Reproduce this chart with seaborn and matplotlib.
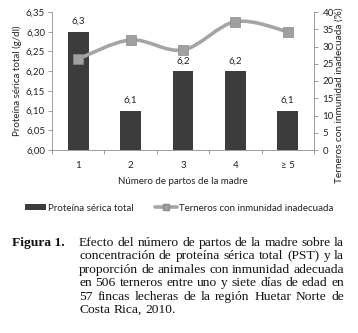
import numpy as np
import matplotlib
matplotlib.use("Agg")
import matplotlib.pyplot as plt
from matplotlib.path import Path
from matplotlib.patches import PathPatch, Patch
from matplotlib.lines import Line2D
import seaborn as sns

# --- DATA ---
partos = ["1", "2", "3", "4", "≥ 5"]
proteina = [6.30, 6.10, 6.20, 6.20, 6.10]
proteina_lbl = ["6,3", "6,1", "6,2", "6,2", "6,1"]
inmunidad = [26.4, 31.9, 29.0, 37.2, 34.3]
y_left_ticks = [6.00, 6.05, 6.10, 6.15, 6.20, 6.25, 6.30, 6.35]
y_right_ticks = [0, 5, 10, 15, 20, 25, 30, 35, 40]

caption_lines = [
    "Efecto del número de partos de la madre sobre la",
    "concentración de proteína sérica total (PST) y la",
    "proporción de animales con inmunidad adecuada",
    "en 506 terneros entre uno y siete días de edad en",
    "57 fincas lecheras de la región Huetar Norte de",
    "Costa Rica, 2010.",
]

sns.set_style("white")
plt.rcParams["font.family"] = ["Lato", "DejaVu Sans"]

W, H = 358, 333
fig = plt.figure(figsize=(W / 100, H / 100), dpi=100)
ax = fig.add_axes([52 / W, 1 - 150 / H, (314 - 52) / W, (150 - 12) / H])

bar_col = "#3c3c3c"
line_col = "#a5a5a5"
axis_col = "#8c8c8c"
txt_col = "#222222"

# --- BARS ---
sns.barplot(x=partos, y=proteina, ax=ax, color=bar_col, width=0.4,
            saturation=1, edgecolor="none")
ax.set_ylim(6.00, 6.35)
ax.set_yticks(y_left_ticks)
ax.set_yticklabels([f"{v:.2f}".replace(".", ",") for v in y_left_ticks])
ax.set_xlim(-0.5, len(partos) - 0.5)
for i, (v, lb) in enumerate(zip(proteina, proteina_lbl)):
    ax.annotate(lb, (i, v), xytext=(0, 4), textcoords="offset points",
                ha="center", va="bottom", fontsize=7, color=txt_col)

ax.set_xlabel("Número de partos de la madre", fontsize=7, color=txt_col, labelpad=5)
ax.set_ylabel("Proteína sérica total (g/dl)", fontsize=7, color=txt_col, labelpad=3)
ax.tick_params(axis="y", labelsize=7, colors=txt_col, length=3, width=0.6,
               color=axis_col, direction="out", left=True, pad=2)
ax.tick_params(axis="x", which="major", labelsize=7, colors=txt_col, length=0, pad=8)
ax.set_xticks(np.arange(-0.5, len(partos), 1.0), minor=True)
ax.tick_params(axis="x", which="minor", length=3, width=0.6, color=axis_col,
               direction="out", bottom=True)
for s in ["top", "right"]:
    ax.spines[s].set_visible(False)
for s in ["left", "bottom"]:
    ax.spines[s].set_color(axis_col)
    ax.spines[s].set_linewidth(0.6)

# --- LINE (smoothed, on second axis) ---
ax2 = ax.twinx()
ax2.set_ylim(0, 40)
ax2.set_yticks(y_right_ticks)
xs = np.arange(len(partos))
ys = np.array(inmunidad)
verts = [(xs[0], ys[0])]
codes = [Path.MOVETO]
for i in range(len(xs) - 1):
    p0 = (xs[max(i - 1, 0)], ys[max(i - 1, 0)])
    p1 = (xs[i], ys[i])
    p2 = (xs[i + 1], ys[i + 1])
    p3 = (xs[min(i + 2, len(xs) - 1)], ys[min(i + 2, len(xs) - 1)])
    c1 = (p1[0] + (p2[0] - p0[0]) / 6, p1[1] + (p2[1] - p0[1]) / 6)
    c2 = (p2[0] - (p3[0] - p1[0]) / 6, p2[1] - (p3[1] - p1[1]) / 6)
    verts += [c1, c2, p2]
    codes += [Path.CURVE4] * 3
ax2.add_patch(PathPatch(Path(verts, codes), facecolor="none", edgecolor=line_col,
                        lw=2.6, capstyle="round", zorder=2))
sns.scatterplot(x=xs, y=ys, ax=ax2, marker="s", s=42, color="#a0a0a0",
                edgecolor="#8a8a8a", linewidth=0.5, zorder=3)
ax2.set_ylabel("Terneros con inmunidad inadecuada (%)", fontsize=7.2, color=txt_col,
               va="center")
ax2.yaxis.set_label_coords((339 - 52) / 262, (150 - 95) / 138)
ax2.tick_params(axis="y", labelsize=7, colors=txt_col, length=3, width=0.6,
                color=axis_col, direction="out", right=True, pad=3)
for s in ["top", "left", "bottom"]:
    ax2.spines[s].set_visible(False)
ax2.spines["right"].set_color(axis_col)
ax2.spines["right"].set_linewidth(0.6)
ax2.set_xlim(-0.5, len(partos) - 0.5)

# --- LEGEND ---
handles = [
    Patch(facecolor=bar_col, edgecolor="none", label="Proteína sérica total"),
    Line2D([], [], color=line_col, lw=2.6, marker="s", markersize=5,
           markerfacecolor="#a0a0a0", markeredgecolor="#8a8a8a",
           label="Terneros con inmunidad inadecuada"),
]
fig.legend(handles=handles, loc="center", bbox_to_anchor=(0.5, 1 - 208 / H),
           ncol=2, frameon=False, fontsize=7, handlelength=2.2, handleheight=0.6,
           handletextpad=0.2, columnspacing=2.2, labelcolor=txt_col)

# --- CAPTION ---
serif = ["Liberation Serif", "DejaVu Serif"]
cap_fs = 9.7
fig.text(12 / W, 1 - 243 / H, "Figura 1.", fontsize=cap_fs, fontweight="bold",
         family=serif, va="center", ha="left", color="#111111")
fig.canvas.draw()
rend = fig.canvas.get_renderer()
x0, x1 = 79, 344
for k, line in enumerate(caption_lines):
    yy = 1 - (243 + k * 13.4) / H
    words = line.split(" ")
    objs = [fig.text(0, yy, w, fontsize=cap_fs, family=serif, va="center",
                     ha="left", color="#111111") for w in words]
    widths = [o.get_window_extent(rend).width for o in objs]
    if k < len(caption_lines) - 1 and len(words) > 1:
        gap = (x1 - x0 - sum(widths)) / (len(words) - 1)
    else:
        sp = fig.text(0, 0, "a a", fontsize=cap_fs, family=serif)
        sp2 = fig.text(0, 0, "aa", fontsize=cap_fs, family=serif)
        gap = sp.get_window_extent(rend).width - sp2.get_window_extent(rend).width
        sp.remove()
        sp2.remove()
    xp = x0
    for o, wd in zip(objs, widths):
        o.set_x(xp / W)
        xp += wd + gap

fig.savefig("out.png", dpi=100)
